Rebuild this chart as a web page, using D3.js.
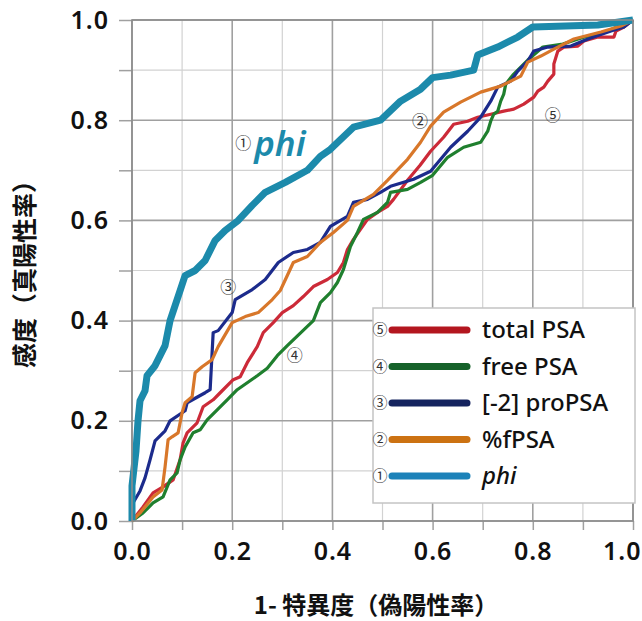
<!DOCTYPE html>
<html>
<head>
<meta charset="utf-8">
<script src="https://cdn.jsdelivr.net/npm/d3@7"></script>
<style>
  body { margin: 0; background: #fff; }
  svg { display: block; }
</style>
</head>
<body>
<div id="chart"></div>
<script>
// ROC curves: [1 - specificity, sensitivity]
const totalPSA = [[0,0],[0.022,0.028],[0.042,0.056],[0.062,0.068],[0.082,0.082],[0.096,0.122],[0.102,0.156],[0.11,0.176],[0.13,0.196],[0.142,0.228],[0.162,0.242],[0.176,0.256],[0.202,0.282],[0.216,0.288],[0.23,0.316],[0.25,0.348],[0.262,0.376],[0.282,0.396],[0.3,0.416],[0.322,0.43],[0.342,0.448],[0.362,0.468],[0.39,0.482],[0.41,0.496],[0.422,0.516],[0.43,0.542],[0.442,0.562],[0.456,0.582],[0.47,0.602],[0.49,0.616],[0.51,0.628],[0.522,0.642],[0.55,0.68],[0.575,0.71],[0.596,0.738],[0.622,0.766],[0.642,0.792],[0.67,0.798],[0.69,0.806],[0.716,0.812],[0.742,0.818],[0.762,0.822],[0.782,0.832],[0.802,0.846],[0.81,0.858],[0.822,0.866],[0.83,0.878],[0.842,0.892],[0.842,0.912],[0.85,0.938],[0.862,0.946],[0.89,0.948],[0.902,0.958],[0.93,0.966],[0.962,0.966],[0.966,0.978],[0.982,0.986],[1,1]];
const freePSA = [[0,0],[0.022,0.016],[0.042,0.036],[0.062,0.048],[0.076,0.082],[0.09,0.096],[0.096,0.122],[0.106,0.148],[0.122,0.176],[0.136,0.182],[0.15,0.202],[0.17,0.222],[0.19,0.242],[0.21,0.262],[0.23,0.276],[0.25,0.29],[0.27,0.305],[0.29,0.33],[0.31,0.35],[0.336,0.375],[0.362,0.4],[0.376,0.436],[0.396,0.456],[0.41,0.476],[0.422,0.502],[0.43,0.528],[0.436,0.548],[0.45,0.576],[0.462,0.602],[0.49,0.616],[0.51,0.636],[0.516,0.656],[0.55,0.662],[0.576,0.676],[0.6,0.69],[0.63,0.726],[0.662,0.746],[0.696,0.756],[0.71,0.778],[0.716,0.798],[0.722,0.812],[0.73,0.818],[0.736,0.838],[0.742,0.852],[0.746,0.872],[0.76,0.89],[0.79,0.92],[0.82,0.946],[0.86,0.952],[0.9,0.965],[0.95,0.978],[1,1]];
const proPSA = [[0,0],[0.002,0.036],[0.016,0.06],[0.026,0.086],[0.036,0.122],[0.046,0.16],[0.066,0.18],[0.076,0.2],[0.106,0.22],[0.11,0.236],[0.146,0.256],[0.156,0.262],[0.162,0.376],[0.172,0.38],[0.2,0.416],[0.206,0.442],[0.24,0.462],[0.266,0.482],[0.292,0.516],[0.322,0.536],[0.35,0.542],[0.376,0.556],[0.396,0.588],[0.43,0.608],[0.442,0.636],[0.47,0.642],[0.496,0.656],[0.516,0.668],[0.562,0.682],[0.596,0.698],[0.636,0.746],[0.67,0.778],[0.696,0.806],[0.716,0.838],[0.73,0.866],[0.756,0.878],[0.77,0.898],[0.79,0.918],[0.802,0.938],[0.83,0.946],[0.876,0.948],[0.91,0.962],[0.956,0.978],[0.982,0.986],[1,1]];
const fPSA = [[0,0],[0.016,0.016],[0.042,0.048],[0.06,0.062],[0.066,0.108],[0.072,0.162],[0.08,0.168],[0.092,0.176],[0.1,0.216],[0.106,0.236],[0.12,0.248],[0.126,0.296],[0.14,0.308],[0.16,0.322],[0.172,0.348],[0.2,0.396],[0.226,0.408],[0.252,0.416],[0.28,0.442],[0.296,0.46],[0.31,0.49],[0.322,0.516],[0.35,0.528],[0.376,0.556],[0.402,0.576],[0.43,0.6],[0.442,0.628],[0.482,0.652],[0.51,0.68],[0.55,0.722],[0.576,0.756],[0.596,0.788],[0.622,0.816],[0.656,0.836],[0.696,0.856],[0.736,0.868],[0.776,0.888],[0.79,0.916],[0.816,0.928],[0.842,0.942],[0.882,0.962],[0.936,0.976],[0.976,0.988],[1,1]];
const phi = [[0,0],[0,0.07],[0.008,0.14],[0.012,0.2],[0.016,0.24],[0.026,0.26],[0.03,0.29],[0.046,0.31],[0.056,0.33],[0.066,0.35],[0.076,0.4],[0.086,0.43],[0.096,0.46],[0.106,0.49],[0.126,0.5],[0.146,0.52],[0.166,0.56],[0.186,0.58],[0.212,0.6],[0.24,0.63],[0.266,0.656],[0.306,0.676],[0.35,0.7],[0.376,0.728],[0.396,0.742],[0.442,0.786],[0.496,0.8],[0.536,0.838],[0.576,0.862],[0.6,0.885],[0.636,0.89],[0.682,0.9],[0.69,0.93],[0.73,0.946],[0.77,0.966],[0.8,0.986],[0.93,0.99],[1,1]];

const seriesNames = ["total PSA", "free PSA", "[-2] proPSA", "%fPSA", "phi"];
const seriesMarks = ["⑤", "④", "③", "②", "①"];
const seriesColors = ["#cc2a38", "#1f7f2e", "#1c2b8c", "#d8772a", "#1c8aab"];
const legendColors = ["#b3161f", "#16622a", "#15245f", "#cc7212", "#1c82b9"];
const seriesData = [totalPSA, freePSA, proPSA, fPSA, phi];

const majorTicks = [0, 0.2, 0.4, 0.6, 0.8, 1.0];
const minorTicks = [0.1, 0.3, 0.5, 0.7, 0.9];

// curve annotations [mark, fpr, tpr]
const notes = [["②", 0.575, 0.798], ["⑤", 0.84, 0.81], ["③", 0.192, 0.467], ["④", 0.325, 0.331], ["①", 0.222, 0.755]];

var width = 642, height = 621;
var x = d3.scaleLinear().domain([0, 1]).range([132, 633]);
var y = d3.scaleLinear().domain([0, 1]).range([521, 20]);

var svg = d3.select("#chart").append("svg")
    .attr("width", width)
    .attr("height", height);

svg.append("rect").attr("width", width).attr("height", height).attr("fill", "#fff");

// grid
var grid = svg.append("g");
grid.selectAll(".vmin").data(minorTicks).enter().append("line")
    .attr("x1", d => x(d)).attr("x2", d => x(d))
    .attr("y1", y(0)).attr("y2", y(1))
    .attr("stroke", "#d2d2d2").attr("stroke-width", 1.2);
grid.selectAll(".hmin").data(minorTicks).enter().append("line")
    .attr("y1", d => y(d)).attr("y2", d => y(d))
    .attr("x1", x(0)).attr("x2", x(1))
    .attr("stroke", "#d2d2d2").attr("stroke-width", 1.2);
grid.selectAll(".vmaj").data(majorTicks).enter().append("line")
    .attr("x1", d => x(d)).attr("x2", d => x(d))
    .attr("y1", y(0)).attr("y2", y(1))
    .attr("stroke", "#a0a0a0").attr("stroke-width", 1.6);
grid.selectAll(".hmaj").data(majorTicks).enter().append("line")
    .attr("y1", d => y(d)).attr("y2", d => y(d))
    .attr("x1", x(0)).attr("x2", x(1))
    .attr("stroke", "#a0a0a0").attr("stroke-width", 1.6);

// axes
var allTicks = majorTicks.concat(minorTicks);
var yAxis = svg.append("g")
    .attr("transform", "translate(" + x(0) + ",0)")
    .call(d3.axisLeft(y).tickValues(allTicks).tickSize(13).tickPadding(10)
        .tickFormat(d => majorTicks.includes(d) ? d3.format(".1f")(d) : ""));
var xAxis = svg.append("g")
    .attr("transform", "translate(0," + y(0) + ")")
    .call(d3.axisBottom(x).tickValues(allTicks).tickSize(9).tickPadding(12)
        .tickFormat(d => majorTicks.includes(d) ? d3.format(".1f")(d) : ""));
[xAxis, yAxis].forEach(function(a) {
    a.select(".domain").remove();
    a.selectAll(".tick line").attr("stroke", "#a0a0a0").attr("stroke-width", 1.5);
    a.selectAll(".tick text")
        .attr("fill", "#111")
        .style("font-family", "'Noto Sans', sans-serif")
        .style("font-weight", "600")
        .style("font-size", "25px")
        .style("letter-spacing", "1px");
});
// last x label sits against the right edge
xAxis.selectAll(".tick text").filter(d => d == 1)
    .attr("text-anchor", "end")
    .attr("x", width - 1 - x(1));

// series, drawn so that phi ends on top
var line = d3.line().x(d => x(d[0])).y(d => y(d[1]));
seriesData.forEach(function(data, i) {
    svg.append("path")
        .datum(data)
        .attr("fill", "none")
        .attr("stroke", seriesColors[i])
        .attr("stroke-width", i == 4 ? 7 : 3.2)
        .attr("stroke-linejoin", "round")
        .attr("d", line);
});

// frame
svg.append("rect")
    .attr("x", x(0)).attr("y", y(1))
    .attr("width", x(1) - x(0)).attr("height", y(0) - y(1))
    .attr("fill", "none").attr("stroke", "#8c8c8c").attr("stroke-width", 1.6);

// annotations
svg.selectAll(".note").data(notes).enter().append("text")
    .attr("x", d => x(d[1])).attr("y", d => y(d[2]))
    .attr("text-anchor", "middle").attr("dy", "0.36em")
    .style("font-family", "'Noto Sans CJK JP', sans-serif")
    .style("font-size", "16px")
    .attr("fill", "#333")
    .text(d => d[0]);
svg.append("text")
    .attr("x", x(0.244)).attr("y", y(0.728))
    .style("font-family", "'Noto Sans', sans-serif")
    .style("font-style", "italic").style("font-weight", "600")
    .style("font-size", "35px")
    .attr("fill", seriesColors[4])
    .text("phi");

// legend
var legend = svg.append("g");
legend.append("rect")
    .attr("x", 373).attr("y", 308).attr("width", 262).attr("height", 195)
    .attr("fill", "#fff").attr("stroke", "#c4c4c4").attr("stroke-width", 1.5);
var rowY = d3.scalePoint().domain(seriesNames).range([330, 476]);
seriesNames.forEach(function(name, i) {
    var yy = rowY(name);
    legend.append("text")
        .attr("x", 380).attr("y", yy).attr("dy", "0.36em")
        .attr("text-anchor", "middle")
        .style("font-family", "'Noto Sans CJK JP', sans-serif")
        .style("font-size", "15px").attr("fill", "#333")
        .text(seriesMarks[i]);
    legend.append("line")
        .attr("x1", 392).attr("x2", 467).attr("y1", yy).attr("y2", yy)
        .attr("stroke", legendColors[i]).attr("stroke-width", 7)
        .attr("stroke-linecap", "round");
    legend.append("text")
        .attr("x", 482).attr("y", yy).attr("dy", "0.35em")
        .style("font-family", "'Noto Sans', sans-serif")
        .style("font-size", "24px")
        .style("font-weight", "500")
        .style("font-style", i == 4 ? "italic" : "normal")
        .attr("fill", "#111")
        .text(name);
});

// axis titles
svg.append("text")
    .attr("x", 376).attr("y", 614)
    .attr("text-anchor", "middle")
    .style("font-family", "'Noto Sans CJK JP', sans-serif")
    .style("font-weight", "700").style("font-size", "24px")
    .attr("fill", "#111")
    .text("1- 特異度（偽陽性率）");
svg.append("text")
    .attr("transform", "translate(34,268) rotate(-90)")
    .attr("text-anchor", "middle")
    .style("font-family", "'Noto Sans CJK JP', sans-serif")
    .style("font-weight", "700").style("font-size", "25px")
    .attr("fill", "#111")
    .text("感度（真陽性率）");
</script>
</body>
</html>
